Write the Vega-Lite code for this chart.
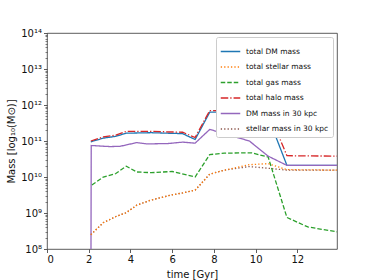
{
  "$schema": "https://vega.github.io/schema/vega-lite/v6.json",
  "width": 290,
  "height": 216,
  "autosize": {"type": "none"},
  "padding": {"left": 47, "top": 33, "right": 37, "bottom": 31},
  "background": "white",
  "config": {
    "font": "DejaVu Sans",
    "view": {"stroke": "#333", "strokeWidth": 0.8},
    "axis": {"grid": false, "domain": false, "tickColor": "#333", "tickSize": 3.5, "tickWidth": 0.8, "labelFontSize": 10, "labelColor": "#111", "titleFontSize": 10, "titleFontWeight": "normal", "titleColor": "#111", "labelFont": "DejaVu Sans", "titleFont": "DejaVu Sans"}
  },
  "data": {"values": [
    {"t": 2.1, "m": 2.5e8, "s": "stellar mass in 30 kpc"},
    {"t": 2.7, "m": 5.4e8, "s": "stellar mass in 30 kpc"},
    {"t": 3.3, "m": 8.0e8, "s": "stellar mass in 30 kpc"},
    {"t": 3.8, "m": 1.02e9, "s": "stellar mass in 30 kpc"},
    {"t": 4.3, "m": 1.65e9, "s": "stellar mass in 30 kpc"},
    {"t": 5.0, "m": 2.3e9, "s": "stellar mass in 30 kpc"},
    {"t": 6.0, "m": 3.2e9, "s": "stellar mass in 30 kpc"},
    {"t": 6.5, "m": 3.6e9, "s": "stellar mass in 30 kpc"},
    {"t": 7.1, "m": 4.3e9, "s": "stellar mass in 30 kpc"},
    {"t": 7.8, "m": 1.2e10, "s": "stellar mass in 30 kpc"},
    {"t": 8.5, "m": 1.55e10, "s": "stellar mass in 30 kpc"},
    {"t": 9.7, "m": 1.95e10, "s": "stellar mass in 30 kpc"},
    {"t": 10.6, "m": 1.75e10, "s": "stellar mass in 30 kpc"},
    {"t": 11.5, "m": 1.55e10, "s": "stellar mass in 30 kpc"},
    {"t": 13.9, "m": 1.55e10, "s": "stellar mass in 30 kpc"},

    {"t": 2.1, "m": 9.5e10, "s": "total DM mass"},
    {"t": 2.7, "m": 1.2e11, "s": "total DM mass"},
    {"t": 3.3, "m": 1.35e11, "s": "total DM mass"},
    {"t": 3.8, "m": 1.65e11, "s": "total DM mass"},
    {"t": 5.0, "m": 1.7e11, "s": "total DM mass"},
    {"t": 6.5, "m": 1.6e11, "s": "total DM mass"},
    {"t": 7.1, "m": 1.1e11, "s": "total DM mass"},
    {"t": 7.8, "m": 6.3e11, "s": "total DM mass"},
    {"t": 10.5, "m": 6.6e11, "s": "total DM mass"},
    {"t": 11.5, "m": 2.1e10, "s": "total DM mass"},
    {"t": 13.9, "m": 2.1e10, "s": "total DM mass"},

    {"t": 2.15, "m": 6.0e9, "s": "total gas mass"},
    {"t": 2.7, "m": 1.0e10, "s": "total gas mass"},
    {"t": 3.3, "m": 1.25e10, "s": "total gas mass"},
    {"t": 3.8, "m": 2.0e10, "s": "total gas mass"},
    {"t": 4.3, "m": 1.38e10, "s": "total gas mass"},
    {"t": 5.0, "m": 1.32e10, "s": "total gas mass"},
    {"t": 6.0, "m": 1.42e10, "s": "total gas mass"},
    {"t": 7.1, "m": 1.0e10, "s": "total gas mass"},
    {"t": 7.8, "m": 4.2e10, "s": "total gas mass"},
    {"t": 8.5, "m": 4.6e10, "s": "total gas mass"},
    {"t": 9.8, "m": 4.7e10, "s": "total gas mass"},
    {"t": 10.6, "m": 3.6e10, "s": "total gas mass"},
    {"t": 11.5, "m": 7.5e8, "s": "total gas mass"},
    {"t": 12.5, "m": 4.1e8, "s": "total gas mass"},
    {"t": 13.9, "m": 3.0e8, "s": "total gas mass"},

    {"t": 2.1, "m": 1.0e11, "s": "total halo mass"},
    {"t": 2.7, "m": 1.3e11, "s": "total halo mass"},
    {"t": 3.3, "m": 1.45e11, "s": "total halo mass"},
    {"t": 3.8, "m": 1.85e11, "s": "total halo mass"},
    {"t": 5.0, "m": 1.85e11, "s": "total halo mass"},
    {"t": 6.5, "m": 1.75e11, "s": "total halo mass"},
    {"t": 7.1, "m": 1.25e11, "s": "total halo mass"},
    {"t": 7.8, "m": 7.0e11, "s": "total halo mass"},
    {"t": 10.6, "m": 7.0e11, "s": "total halo mass"},
    {"t": 11.5, "m": 3.9e10, "s": "total halo mass"},
    {"t": 13.9, "m": 3.8e10, "s": "total halo mass"},

    {"t": 2.1, "m": 1.0e6, "s": "DM mass in 30 kpc"},
    {"t": 2.12, "m": 7.5e10, "s": "DM mass in 30 kpc"},
    {"t": 3.0, "m": 7.0e10, "s": "DM mass in 30 kpc"},
    {"t": 3.5, "m": 7.1e10, "s": "DM mass in 30 kpc"},
    {"t": 3.8, "m": 7.8e10, "s": "DM mass in 30 kpc"},
    {"t": 4.3, "m": 9.0e10, "s": "DM mass in 30 kpc"},
    {"t": 4.8, "m": 8.3e10, "s": "DM mass in 30 kpc"},
    {"t": 5.8, "m": 8.5e10, "s": "DM mass in 30 kpc"},
    {"t": 6.5, "m": 9.3e10, "s": "DM mass in 30 kpc"},
    {"t": 7.1, "m": 8.7e10, "s": "DM mass in 30 kpc"},
    {"t": 7.8, "m": 2.1e11, "s": "DM mass in 30 kpc"},
    {"t": 9.7, "m": 1.0e11, "s": "DM mass in 30 kpc"},
    {"t": 10.6, "m": 3.8e10, "s": "DM mass in 30 kpc"},
    {"t": 11.5, "m": 2.1e10, "s": "DM mass in 30 kpc"},
    {"t": 13.9, "m": 2.1e10, "s": "DM mass in 30 kpc"},

    {"t": 2.1, "m": 2.5e8, "s": "total stellar mass"},
    {"t": 2.7, "m": 5.4e8, "s": "total stellar mass"},
    {"t": 3.3, "m": 8.0e8, "s": "total stellar mass"},
    {"t": 3.8, "m": 1.02e9, "s": "total stellar mass"},
    {"t": 4.3, "m": 1.65e9, "s": "total stellar mass"},
    {"t": 5.0, "m": 2.3e9, "s": "total stellar mass"},
    {"t": 6.0, "m": 3.2e9, "s": "total stellar mass"},
    {"t": 6.5, "m": 3.6e9, "s": "total stellar mass"},
    {"t": 7.1, "m": 4.3e9, "s": "total stellar mass"},
    {"t": 7.8, "m": 1.2e10, "s": "total stellar mass"},
    {"t": 8.5, "m": 1.55e10, "s": "total stellar mass"},
    {"t": 9.7, "m": 2.2e10, "s": "total stellar mass"},
    {"t": 10.6, "m": 2.35e10, "s": "total stellar mass"},
    {"t": 11.5, "m": 1.6e10, "s": "total stellar mass"},
    {"t": 13.9, "m": 1.55e10, "s": "total stellar mass"}
  ]},
  "resolve": {"axis": {"y": "independent"}, "scale": {"y": "shared"}},
  "layer": [
    {
      "mark": {"type": "line", "clip": true, "strokeWidth": 1.3},
      "encoding": {
        "x": {"field": "t", "type": "quantitative", "scale": {"domain": [0, 13.9], "nice": false, "zero": false}, "axis": {"values": [0, 2, 4, 6, 8, 10, 12], "title": "time [Gyr]", "titlePadding": 5, "labelPadding": 2}},
        "y": {"field": "m", "type": "quantitative", "scale": {"type": "log", "domain": [1e8, 1e14], "nice": false}, "axis": {"orient": "left", "values": [1e8, 1e9, 1e10, 1e11, 1e12, 1e13, 1e14], "labelExpr": "'10' + ['⁰','¹','²','³','⁴','⁵','⁶','⁷','⁸','⁹','¹⁰','¹¹','¹²','¹³','¹⁴'][round(log(datum.value)/LN10)]", "title": "Mass [log₁₀(M⊙)]", "titlePadding": 4, "labelPadding": 2}},
        "color": {"field": "s", "type": "nominal", "sort": null,
          "scale": {"domain": ["total DM mass", "total stellar mass", "total gas mass", "total halo mass", "DM mass in 30 kpc", "stellar mass in 30 kpc"], "range": ["#1f77b4", "#ff7f0e", "#2ca02c", "#d62728", "#9467bd", "#8c564b"]},
          "legend": {"title": null, "orient": "top-right", "offset": 4, "symbolType": "stroke", "symbolSize": 380, "symbolStrokeWidth": 1.3, "labelFontSize": 7.5, "labelColor": "#111", "labelFont": "DejaVu Sans", "labelOffset": 5, "rowPadding": 1.5, "fillColor": "white", "strokeColor": "#ccc", "padding": 4, "cornerRadius": 2}},
        "strokeDash": {"field": "s", "type": "nominal", "sort": null,
          "scale": {"domain": ["total DM mass", "total stellar mass", "total gas mass", "total halo mass", "DM mass in 30 kpc", "stellar mass in 30 kpc"], "range": [[1, 0], [1.3, 2.1], [4.5, 2], [7.5, 2, 1.3, 2], [1, 0], [1.3, 2.1]]},
          "legend": {"title": null}},
        "order": {"field": "t", "type": "quantitative"}
      }
    },
    {
      "mark": {"type": "line", "opacity": 0},
      "encoding": {
        "x": {"field": "t", "type": "quantitative"},
        "y": {"field": "m", "type": "quantitative", "axis": {"orient": "left", "values": [2e8,3e8,4e8,5e8,6e8,7e8,8e8,9e8,2e9,3e9,4e9,5e9,6e9,7e9,8e9,9e9,2e10,3e10,4e10,5e10,6e10,7e10,8e10,9e10,2e11,3e11,4e11,5e11,6e11,7e11,8e11,9e11,2e12,3e12,4e12,5e12,6e12,7e12,8e12,9e12,2e13,3e13,4e13,5e13,6e13,7e13,8e13,9e13], "labels": false, "title": null, "tickSize": 2, "tickWidth": 0.6, "domain": false}}
      }
    }
  ]
}
